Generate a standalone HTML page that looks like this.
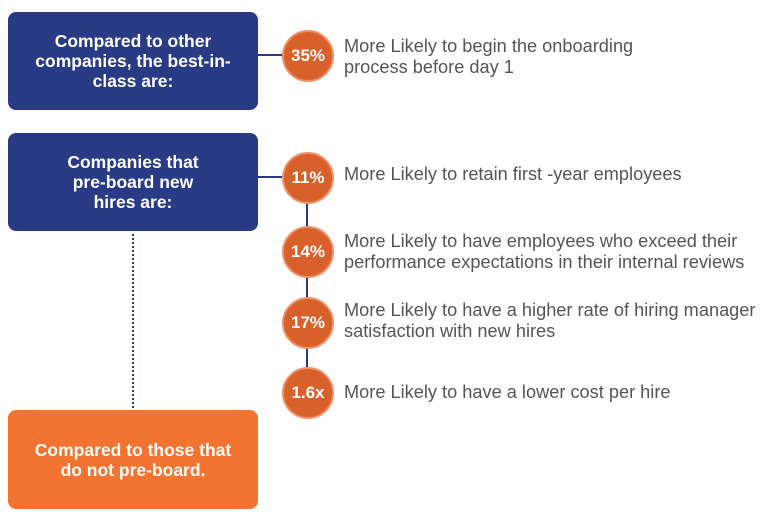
<!DOCTYPE html><html><head><style>
body{margin:0;width:770px;height:520px;background:#fff;position:relative;font-family:"Liberation Sans",sans-serif;overflow:hidden}
.box{position:absolute;left:8px;width:250px;border-radius:8px;color:#fff;font-weight:bold;font-size:17.5px;line-height:20px;text-align:center;display:flex;align-items:center;justify-content:center}
.nv{background:#283b84}
.c{position:absolute;width:48px;height:48px;border-radius:50%;background:#d8612b;border:2px solid #f0906a;color:#fff;font-weight:bold;font-size:17px;display:flex;align-items:center;justify-content:center;left:282px}
.t{position:absolute;left:344px;color:#555;font-size:18.2px;line-height:21px;white-space:nowrap}
.ln{position:absolute;background:#283b84}
</style></head><body>
<div class="ln" style="left:258px;top:54px;width:26px;height:2px"></div>
<div class="ln" style="left:258px;top:176px;width:26px;height:2px"></div>
<div class="ln" style="left:306px;top:177px;width:2px;height:215px"></div>
<div style="position:absolute;left:132px;top:234px;height:174px;border-left:2px dotted #283b84"></div>
<div class="box nv" style="top:12px;height:98px">Compared to other<br>companies, the best-in-<br>class are:</div>
<div class="box nv" style="top:133px;height:98px">Companies that<br>pre-board new<br>hires are:</div>
<div class="box" style="top:410px;height:99px;background:#f37331">Compared to those that<br>do not pre-board.</div>
<div class="c" style="top:30px">35%</div>
<div class="c" style="top:152px">11%</div>
<div class="c" style="top:226px">14%</div>
<div class="c" style="top:297px">17%</div>
<div class="c" style="top:367px">1.6x</div>
<div class="t" style="top:36px">More Likely to begin the onboarding<br>process before day 1</div>
<div class="t" style="top:164px">More Likely to retain first -year employees</div>
<div class="t" style="top:231px">More Likely to have employees who exceed their<br>performance expectations in their internal reviews</div>
<div class="t" style="top:300px">More Likely to have a higher rate of hiring manager<br>satisfaction with new hires</div>
<div class="t" style="top:382px">More Likely to have a lower cost per hire</div>
</body></html>
